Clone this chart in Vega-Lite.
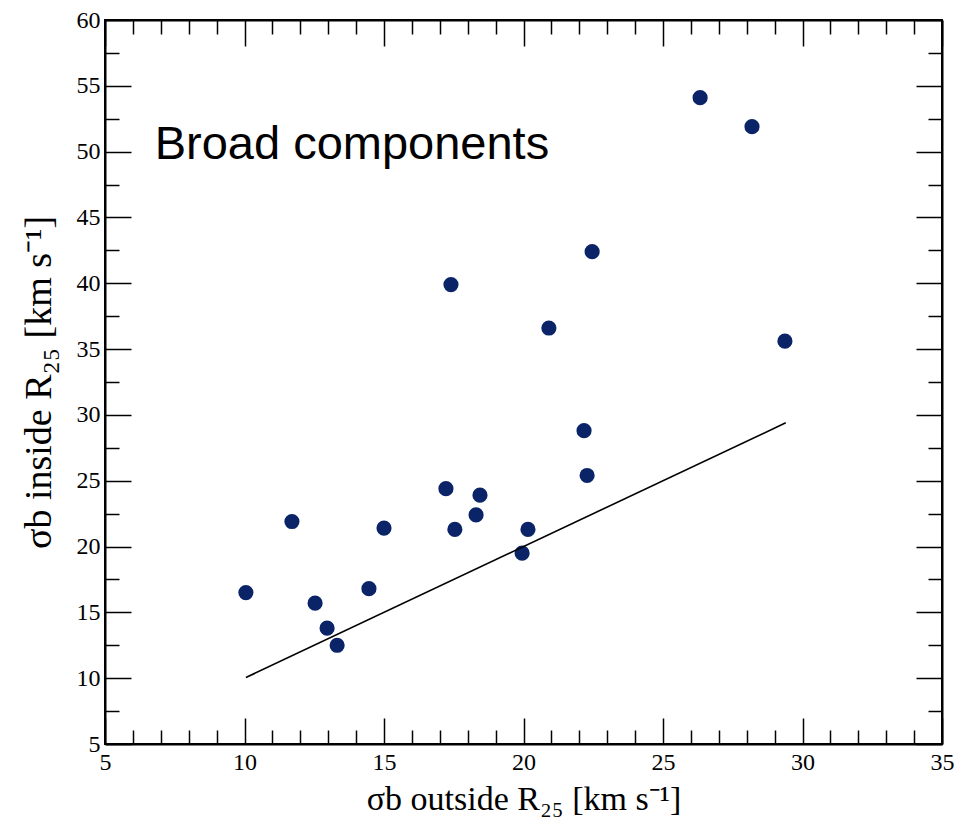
{
  "$schema": "https://vega.github.io/schema/vega-lite/v6.json",
  "autosize": "none",
  "width": 837,
  "height": 724,
  "padding": {"left": 105, "top": 20, "right": 13, "bottom": 83},
  "background": "white",
  "config": {
    "view": {"stroke": "#000", "strokeWidth": 2},
    "axis": {
      "domainColor": "#000", "domainWidth": 2, "tickColor": "#000", "tickWidth": 1.5,
      "labelFont": "Liberation Serif", "labelFontSize": 24, "labelColor": "#000",
      "titleFont": "Liberation Serif", "titleFontSize": 34, "titleFontWeight": "normal", "titleColor": "#000",
      "grid": false
    }
  },
  "datasets": {
    "pts": [
      {"x": 10.05, "y": 16.5}, {"x": 11.7, "y": 21.9}, {"x": 12.53, "y": 15.7}, {"x": 12.96, "y": 13.8},
      {"x": 13.32, "y": 12.5}, {"x": 14.46, "y": 16.8}, {"x": 15.0, "y": 21.4}, {"x": 17.22, "y": 24.4},
      {"x": 17.4, "y": 39.9}, {"x": 17.54, "y": 21.3}, {"x": 18.3, "y": 22.4}, {"x": 18.44, "y": 23.9},
      {"x": 19.95, "y": 19.5}, {"x": 20.16, "y": 21.3}, {"x": 20.91, "y": 36.6}, {"x": 22.17, "y": 28.8},
      {"x": 22.28, "y": 25.4}, {"x": 22.46, "y": 42.4}, {"x": 26.33, "y": 54.1}, {"x": 28.19, "y": 51.9},
      {"x": 29.37, "y": 35.6}
    ],
    "fit": [{"x": 10.05, "y": 10.05}, {"x": 29.4, "y": 29.4}],
    "note": [{"x": 6.78, "y": 49.45, "label": "Broad components"}]
  },
  "layer": [
    {
      "data": {"name": "pts"},
      "mark": {"type": "point", "filled": true, "shape": "circle", "size": 230, "color": "#0b2468", "opacity": 1},
      "encoding": {
        "x": {
          "field": "x", "type": "quantitative",
          "scale": {"domain": [5, 35], "nice": false, "zero": false},
          "axis": {
            "orient": "bottom",
            "values": [5,6,7,8,9,10,11,12,13,14,15,16,17,18,19,20,21,22,23,24,25,26,27,28,29,30,31,32,33,34,35],
            "labelExpr": "datum.value % 5 === 0 ? datum.label : ''",
            "tickSize": {"condition": {"test": "datum.value % 5 === 0", "value": -26}, "value": -14},
            "labelPadding": 32,
            "labelFlush": false,
            "labelOverlap": false,
            "title": "σb outside R₂₅ [km s⁻¹]",
            "titlePadding": -4
          }
        },
        "y": {
          "field": "y", "type": "quantitative",
          "scale": {"domain": [5, 60], "nice": false, "zero": false},
          "axis": {
            "orient": "left",
            "values": [5,7.5,10,12.5,15,17.5,20,22.5,25,27.5,30,32.5,35,37.5,40,42.5,45,47.5,50,52.5,55,57.5,60],
            "labelExpr": "datum.value % 5 === 0 ? datum.label : ''",
            "tickSize": {"condition": {"test": "datum.value % 5 === 0", "value": -26}, "value": -14},
            "labelPadding": 31,
            "labelFlush": false,
            "labelOverlap": false,
            "title": "σb inside R₂₅ [km s⁻¹]",
            "titleFontSize": 38,
            "titlePadding": 18
          }
        }
      }
    },
    {
      "data": {"name": "fit"},
      "mark": {"type": "line", "color": "#000", "strokeWidth": 1.6},
      "encoding": {
        "x": {
          "field": "x", "type": "quantitative",
          "axis": {
            "orient": "top",
            "values": [5,6,7,8,9,10,11,12,13,14,15,16,17,18,19,20,21,22,23,24,25,26,27,28,29,30,31,32,33,34,35],
            "labels": false,
            "tickSize": {"condition": {"test": "datum.value % 5 === 0", "value": -26}, "value": -14},
            "title": null
          }
        },
        "y": {
          "field": "y", "type": "quantitative",
          "axis": {
            "orient": "right",
            "values": [5,7.5,10,12.5,15,17.5,20,22.5,25,27.5,30,32.5,35,37.5,40,42.5,45,47.5,50,52.5,55,57.5,60],
            "labels": false,
            "tickSize": {"condition": {"test": "datum.value % 5 === 0", "value": -26}, "value": -14},
            "title": null
          }
        }
      }
    },
    {
      "data": {"name": "note"},
      "mark": {"type": "text", "align": "left", "baseline": "alphabetic", "font": "Liberation Sans", "fontSize": 47, "color": "#000"},
      "encoding": {
        "x": {"field": "x", "type": "quantitative", "axis": null},
        "y": {"field": "y", "type": "quantitative", "axis": null},
        "text": {"field": "label"}
      }
    }
  ],
  "resolve": {"axis": {"x": "independent", "y": "independent"}}
}
